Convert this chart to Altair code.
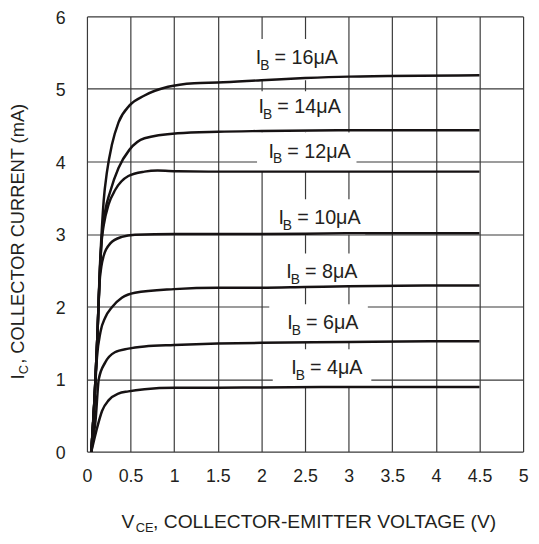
import altair as alt
import pandas as pd

FONT = "Arial"
INK = "#231f20"
GRID = "#3a3a3a"

# ---- characteristic curves (V_CE in V, I_C in mA) ----
vce_4 = [0.05, 0.08, 0.117, 0.173, 0.25, 0.36, 0.475, 0.66, 1.0, 1.5, 2.0, 3.0, 4.0, 4.5]
ic_4 = [0.0, 0.15, 0.33, 0.56, 0.71, 0.80, 0.83, 0.86, 0.88, 0.88, 0.885, 0.89, 0.89, 0.89]

vce_6 = [0.05, 0.075, 0.098, 0.136, 0.21, 0.32, 0.475, 0.66, 1.0, 1.5, 2.0, 3.0, 4.0, 4.5]
ic_6 = [0.0, 0.2, 0.42, 1.0, 1.23, 1.37, 1.42, 1.45, 1.47, 1.49, 1.50, 1.51, 1.52, 1.52]

vce_8 = [0.05, 0.09, 0.115, 0.155, 0.21, 0.286, 0.40, 0.55, 1.0, 1.5, 2.0, 2.5, 3.0, 4.0, 4.5]
ic_8 = [0.0, 0.8, 1.3, 1.65, 1.85, 1.99, 2.12, 2.19, 2.24, 2.26, 2.26, 2.27, 2.28, 2.29, 2.29]

vce_10 = [0.05, 0.09, 0.12, 0.143, 0.165, 0.192, 0.268, 0.40, 0.55, 1.0, 2.0, 3.0, 4.5]
ic_10 = [0.0, 0.8, 1.6, 2.3, 2.55, 2.70, 2.87, 2.96, 2.99, 3.0, 3.0, 3.01, 3.01]

vce_12 = [0.05, 0.09, 0.12, 0.145, 0.17, 0.192, 0.249, 0.325, 0.475, 0.66, 0.81, 1.04, 1.5, 2.0, 3.0, 4.5]
ic_12 = [0.0, 0.8, 1.6, 2.4, 2.92, 3.12, 3.41, 3.61, 3.80, 3.86, 3.875, 3.865, 3.86, 3.86, 3.86, 3.86]

vce_14 = [0.05, 0.09, 0.12, 0.145, 0.17, 0.21, 0.268, 0.362, 0.486, 0.66, 1.04, 1.5, 2.0, 3.0, 4.5]
ic_14 = [0.0, 0.8, 1.6, 2.4, 2.95, 3.32, 3.59, 3.91, 4.16, 4.32, 4.39, 4.41, 4.42, 4.43, 4.43]

vce_16 = [0.05, 0.09, 0.12, 0.145, 0.17, 0.192, 0.23, 0.286, 0.362, 0.486, 0.66, 0.93, 1.23, 1.5, 2.0, 2.5, 3.0, 4.5]
ic_16 = [0.0, 0.8, 1.6, 2.45, 3.05, 3.46, 3.86, 4.23, 4.54, 4.77, 4.91, 5.03, 5.08, 5.09, 5.12, 5.15, 5.17, 5.19]

curve_names = ["4", "6", "8", "10", "12", "14", "16"]
curve_v = [vce_4, vce_6, vce_8, vce_10, vce_12, vce_14, vce_16]
curve_i = [ic_4, ic_6, ic_8, ic_10, ic_12, ic_14, ic_16]

# ---- curve labels ----
label_rest = ["= 16μA", "= 14μA", "= 12μA", "= 10μA", "= 8μA", "= 6μA", "= 4μA"]
label_v = [1.935, 1.968, 2.081, 2.195, 2.285, 2.296, 2.342]
label_i = [5.347, 4.667, 4.054, 3.143, 2.395, 1.687, 1.075]

# white backgrounds behind labels (V0, V1, I0, I1)
box_v0 = [1.83, 1.83, 1.95, 2.10, 2.09, 2.09, 2.13]
box_v1 = [2.96, 2.96, 3.09, 3.19, 3.13, 3.22, 3.26]
box_i0 = [5.12, 4.40, 3.86, 2.99, 2.27, 1.50, 0.88]
box_i1 = [5.69, 4.97, 4.40, 3.48, 2.73, 2.03, 1.41]

x_ticks = [0, 0.5, 1, 1.5, 2, 2.5, 3, 3.5, 4, 4.5, 5]
y_ticks = [0, 1, 2, 3, 4, 5, 6]

rows = []
for name, vs, cs in zip(curve_names, curve_v, curve_i):
    for k, (v, c) in enumerate(zip(vs, cs)):
        rows.append({"ib": name, "vce": v, "ic": c, "order": k})
curves_df = pd.DataFrame(rows)
labels_df = pd.DataFrame({"lv": label_v, "li": label_i, "rest": label_rest})
boxes_df = pd.DataFrame({"v0": box_v0, "v1": box_v1, "i0": box_i0, "i1": box_i1})

x_scale = alt.Scale(domain=[0, 5], nice=False, zero=False)
y_scale = alt.Scale(domain=[0, 6], nice=False, zero=False)

x_axis = alt.Axis(values=x_ticks, title=None, grid=True, ticks=False, domain=False,
                  format="~g", labelPadding=16, labelFontSize=18, labelFont=FONT,
                  labelColor=INK, gridColor=GRID, gridWidth=1.2, gridOpacity=1,
                  labelFlush=False, labelOverlap=False)
y_axis = alt.Axis(values=y_ticks, title=None, grid=True, ticks=False, domain=False,
                  labelPadding=22, labelFontSize=18, labelFont=FONT, labelColor=INK,
                  labelOffset=2,
                  gridColor=GRID, gridWidth=1.2, gridOpacity=1, labelFlush=False,
                  labelOverlap=False)


def X(field):
    return alt.X(field, scale=x_scale, axis=x_axis)


def Y(field):
    return alt.Y(field, scale=y_scale, axis=y_axis)


boxes = alt.Chart(boxes_df).mark_rect(color="white").encode(
    x=X("v0:Q"), x2="v1:Q", y=Y("i0:Q"), y2="i1:Q")

lines = alt.Chart(curves_df).mark_line(color="#161213", strokeWidth=2.5,
                                       interpolate="monotone").encode(
    x=X("vce:Q"), y=Y("ic:Q"), detail="ib:N", order="order:Q")

lab_i = alt.Chart(labels_df).mark_text(align="left", baseline="alphabetic", font=FONT,
                                       fontSize=20, color=INK).encode(
    x=X("lv:Q"), y=Y("li:Q"), text=alt.value("I"))
lab_b = alt.Chart(labels_df).mark_text(align="left", baseline="alphabetic", font=FONT,
                                       fontSize=14, color=INK, dx=4.5, dy=6).encode(
    x=X("lv:Q"), y=Y("li:Q"), text=alt.value("B"))
lab_r = alt.Chart(labels_df).mark_text(align="left", baseline="alphabetic", font=FONT,
                                       fontSize=20, color=INK, dx=19).encode(
    x=X("lv:Q"), y=Y("li:Q"), text="rest:N")

one = pd.DataFrame({"k": [0]})


def title_part(txt, px, py, size, angle=0):
    kw = dict(align="left", baseline="alphabetic", font=FONT, fontSize=size, color=INK)
    if angle:
        kw["angle"] = angle
    return alt.Chart(one).mark_text(**kw).encode(
        x=alt.value(px), y=alt.value(py), text=alt.value(txt))


# axis titles with subscripts (view coordinates; view origin is page (88, 13))
xt1 = title_part("V", 35, 518, 19.5)
xt2 = title_part("CE", 49.5, 522, 13)
xt3 = title_part(", COLLECTOR-EMITTER VOLTAGE (V)", 67, 518, 19.5)
yt1 = title_part("I", -63.5, 368, 18.5, 270)
yt2 = title_part("C", -59.5, 362.5, 13, 270)
yt3 = title_part(", COLLECTOR CURRENT (mA)", -63.5, 352, 18.5, 270)

chart = alt.layer(boxes, lines, lab_i, lab_b, lab_r, xt1, xt2, xt3, yt1, yt2, yt3).properties(
    width=442, height=441,
    autosize=alt.AutoSizeParams(type="none"),
    padding={"left": 80, "top": 5, "right": 8, "bottom": 82},
    background="white",
).configure_view(stroke=None)

chart.save("out.html", embed_options={"renderer": "svg", "actions": False})
